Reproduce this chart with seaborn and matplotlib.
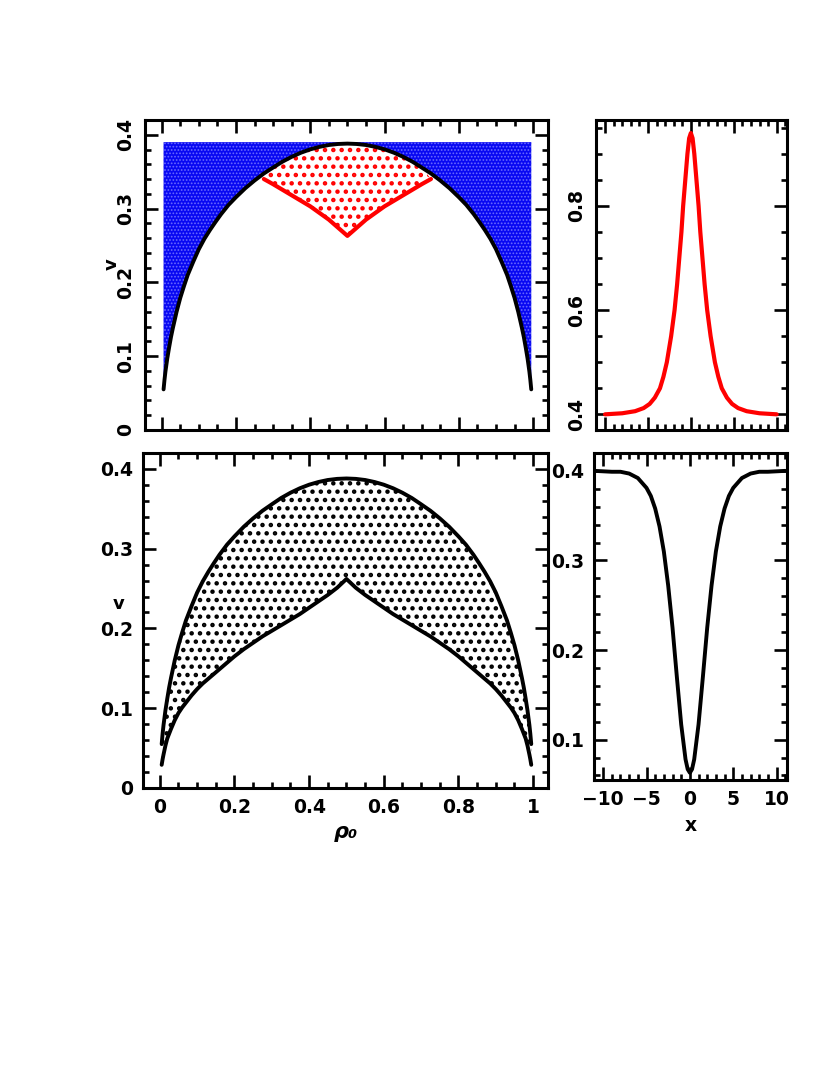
import numpy as np
import matplotlib
matplotlib.use('Agg')
import matplotlib.pyplot as plt
import seaborn as sns
from matplotlib.ticker import MultipleLocator, FuncFormatter

# boundary curves v(rho0)
rho = [0.005, 0.0075, 0.01, 0.015, 0.02, 0.025, 0.03, 0.04, 0.05, 0.06, 0.07, 0.085, 0.1, 0.115,
       0.13, 0.145, 0.16, 0.18, 0.2, 0.225, 0.25, 0.275, 0.3, 0.325, 0.35, 0.375, 0.4, 0.425,
       0.45, 0.475, 0.5,
       0.525, 0.55, 0.575, 0.6, 0.625, 0.65, 0.675, 0.7, 0.725, 0.75, 0.775, 0.8, 0.82, 0.84,
       0.855, 0.87, 0.885, 0.9, 0.915, 0.93, 0.94, 0.95, 0.96, 0.97, 0.975, 0.98, 0.985, 0.99,
       0.9925, 0.995]
v_upper = [0.055, 0.068, 0.079, 0.097, 0.112, 0.126, 0.138, 0.160, 0.179, 0.195, 0.210, 0.228, 0.245, 0.259,
           0.271, 0.282, 0.2925, 0.305, 0.3154, 0.3275, 0.338, 0.3475, 0.3556, 0.3635, 0.3701, 0.3757, 0.3802, 0.3836,
           0.3861, 0.3875, 0.388,
           0.3875, 0.3861, 0.3836, 0.3802, 0.3757, 0.3701, 0.3635, 0.3556, 0.3475, 0.338, 0.3275, 0.3154, 0.305, 0.2925,
           0.282, 0.271, 0.259, 0.245, 0.228, 0.210, 0.195, 0.179, 0.160, 0.138, 0.126, 0.112, 0.097, 0.079,
           0.068, 0.055]
v_lower = [0.029, 0.036, 0.042, 0.053, 0.062, 0.068, 0.074, 0.085, 0.094, 0.101, 0.107, 0.116, 0.124, 0.131,
           0.137, 0.143, 0.149, 0.157, 0.165, 0.174, 0.182, 0.190, 0.197, 0.204, 0.211, 0.218, 0.226, 0.234,
           0.242, 0.251, 0.262,
           0.251, 0.242, 0.234, 0.226, 0.218, 0.211, 0.204, 0.197, 0.190, 0.182, 0.174, 0.165, 0.157, 0.149,
           0.143, 0.137, 0.131, 0.124, 0.116, 0.107, 0.101, 0.094, 0.085, 0.074, 0.068, 0.062, 0.053, 0.042,
           0.036, 0.029]

# red V in the top panel
rho_red = [0.275, 0.3, 0.35, 0.4, 0.45, 0.5, 0.55, 0.6, 0.65, 0.7, 0.725]
v_red = [0.340, 0.333, 0.318, 0.303, 0.285, 0.263, 0.285, 0.303, 0.318, 0.333, 0.340]
v_band_top = 0.39

# profiles v(x)
x_peak = [-10, -8, -6.5, -5.5, -4.8, -4.2, -3.6, -3.2, -2.8, -2.3, -1.9, -1.6, -1.35, -1.1, -0.9, -0.65, -0.4, -0.2, 0,
          0.2, 0.4, 0.65, 0.9, 1.1, 1.35, 1.6, 1.9, 2.3, 2.8, 3.2, 3.6, 4.2, 4.8, 5.5, 6.5, 8, 10]
v_peak = [0.400, 0.402, 0.406, 0.412, 0.420, 0.432, 0.450, 0.472, 0.500, 0.550, 0.600, 0.650, 0.700, 0.750, 0.800, 0.850, 0.900, 0.930, 0.940,
          0.930, 0.900, 0.850, 0.800, 0.750, 0.700, 0.650, 0.600, 0.550, 0.500, 0.472, 0.450, 0.432, 0.420, 0.412, 0.406, 0.402, 0.400]
x_dip = [-11, -9, -8, -7, -6, -5, -4.5, -4, -3.5, -3, -2.5, -2, -1.5, -1, -0.5, -0.25, 0,
         0.25, 0.5, 1, 1.5, 2, 2.5, 3, 3.5, 4, 4.5, 5, 6, 7, 8, 9, 11]
v_dip = [0.400, 0.399, 0.399, 0.397, 0.392, 0.381, 0.372, 0.358, 0.338, 0.310, 0.272, 0.225, 0.170, 0.117, 0.078, 0.067, 0.063,
         0.067, 0.078, 0.117, 0.170, 0.225, 0.272, 0.310, 0.338, 0.358, 0.372, 0.381, 0.392, 0.397, 0.399, 0.399, 0.400]

sns.set_theme(style='ticks')
plt.rcParams['font.family'] = ['DejaVu Sans']
plt.rcParams['font.weight'] = 'bold'
plt.rcParams['text.color'] = 'black'
plt.rcParams['axes.labelcolor'] = 'black'
plt.rcParams['xtick.color'] = 'black'
plt.rcParams['ytick.color'] = 'black'
plt.rcParams['hatch.linewidth'] = 2.0
plt.rcParams['axes.linewidth'] = 2.2


def label_fmt(val, pos):
    s = '%g' % round(val, 3)
    return s.replace('-', '\u2212')


def style_axes(ax, xmaj, xmin, ymaj, ymin):
    ax.xaxis.set_major_locator(MultipleLocator(xmaj))
    ax.xaxis.set_minor_locator(MultipleLocator(xmin))
    ax.yaxis.set_major_locator(MultipleLocator(ymaj))
    ax.yaxis.set_minor_locator(MultipleLocator(ymin))
    ax.xaxis.set_major_formatter(FuncFormatter(label_fmt))
    ax.yaxis.set_major_formatter(FuncFormatter(label_fmt))
    ax.tick_params(which='both', direction='in', top=True, right=True,
                   color='black', labelcolor='black', width=1.9, labelsize=13.5, pad=7)
    ax.tick_params(which='major', length=9.5)
    ax.tick_params(which='minor', length=4.5)
    for s in ax.spines.values():
        s.set_color('black')
        s.set_linewidth(2.2)
    ax.set_facecolor('white')
    ax.grid(False)


fig = plt.figure(figsize=(8.3, 10.8), dpi=100)
ax1 = fig.add_axes([0.1747, 0.6019, 0.4855, 0.2870])
ax2 = fig.add_axes([0.7181, 0.6019, 0.2301, 0.2870])
ax3 = fig.add_axes([0.1723, 0.2704, 0.4880, 0.3102])
ax4 = fig.add_axes([0.7157, 0.2778, 0.2325, 0.3028])

# top left: blue band above the upper curve, red dotted lens
band = ax1.fill_between(rho, v_upper, v_band_top, facecolor='#0808f2', edgecolor='#6a6aff',
                        hatch='.....', linewidth=0, zorder=1)
if hasattr(band, 'set_hatch_linewidth'):
    band.set_hatch_linewidth(0.8)
inner = [i for i, r in enumerate(rho) if rho_red[0] < r < rho_red[-1]]
poly_x = list(rho_red) + [rho[i] for i in inner[::-1]]
poly_y = list(v_red) + [v_upper[i] for i in inner[::-1]]
ax1.fill(poly_x, poly_y, facecolor='none', edgecolor='red', hatch='..', linewidth=0, zorder=1)
sns.lineplot(x=rho, y=v_upper, ax=ax1, color='black', lw=2.8, sort=False, estimator=None, zorder=3)
sns.lineplot(x=rho_red, y=v_red, ax=ax1, color='red', lw=3.0, sort=False, estimator=None, zorder=3)
style_axes(ax1, 0.2, 0.05, 0.1, 0.02)
ax1.set_xlim(-0.045, 1.04)
ax1.set_ylim(0, 0.42)
ax1.tick_params(axis='x', labelbottom=False)
ax1.tick_params(axis='y', labelrotation=90)
for t in ax1.get_yticklabels():
    t.set_va('center')
ax1.set_ylabel('v', fontsize=13, fontweight='bold', rotation=90)
ax1.yaxis.set_label_coords(-0.06, 0.535)
ax1.set_xlabel('')

# top right: red peak profile
sns.lineplot(x=x_peak, y=v_peak, ax=ax2, color='red', lw=3.0, sort=False, estimator=None)
style_axes(ax2, 5, 1, 0.2, 0.05)
ax2.set_xlim(-11.05, 11.2)
ax2.set_ylim(0.37, 0.965)
ax2.tick_params(axis='x', labelbottom=False)
ax2.tick_params(axis='y', labelrotation=90)
for t in ax2.get_yticklabels():
    t.set_va('center')
ax2.set_xlabel('')
ax2.set_ylabel('')

# bottom left: dotted region between the two boundaries
ax3.fill_between(rho, v_lower, v_upper, facecolor='none', edgecolor='black',
                 hatch='..', linewidth=0, zorder=1)
sns.lineplot(x=rho, y=v_upper, ax=ax3, color='black', lw=2.8, sort=False, estimator=None, zorder=3)
sns.lineplot(x=rho, y=v_lower, ax=ax3, color='black', lw=2.8, sort=False, estimator=None, zorder=3)
style_axes(ax3, 0.2, 0.05, 0.1, 0.02)
ax3.set_xlim(-0.045, 1.04)
ax3.set_ylim(0, 0.42)
ax3.set_xlabel('\u03c1\u2080', fontsize=15, fontweight='bold', fontstyle='italic', labelpad=4)
ax3.set_ylabel('v', fontsize=13, fontweight='bold', rotation=0)
ax3.yaxis.set_label_coords(-0.06, 0.522)

# bottom right: black dip profile
sns.lineplot(x=x_dip, y=v_dip, ax=ax4, color='black', lw=2.8, sort=False, estimator=None)
style_axes(ax4, 5, 1, 0.1, 0.02)
ax4.set_xlim(-11.05, 11.2)
ax4.set_ylim(0.055, 0.42)
ax4.set_xlabel('x', fontsize=13.5, fontweight='bold', labelpad=5)
ax4.set_ylabel('')

fig.savefig('out.png', dpi=100, facecolor='white')
